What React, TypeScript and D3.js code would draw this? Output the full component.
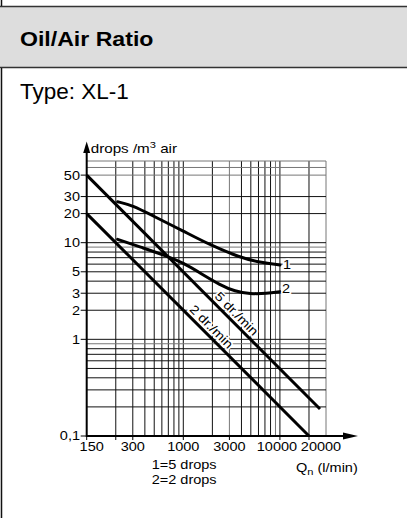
import * as d3 from 'd3';

// axis ticks (the original labels the axis origin "150" although the grid starts at 100)
const xTickValues = [100, 300, 1000, 3000, 10000, 20000];
const xTickLabels = ['150', '300', '1000', '3000', '10000', '20000'];
const xTickMarks = [100, 200, 300, 1000, 3000, 10000, 20000];
const yTickValues = [50, 30, 20, 10, 5, 3, 2, 1, 0.1];
const yTickLabels = ['50', '30', '20', '10', '5', '3', '2', '1', '0,1'];

// grid lines
const xGrid = [
  200, 300, 400, 500, 600, 700, 800, 900, 1000,
  2000, 3000, 4000, 5000, 6000, 7000, 8000, 9000, 10000, 20000, 30000,
];
const xGridGrey = [3000, 9000, 30000];
const yGrid = [
  70, 60, 50, 30, 20, 10, 9, 8, 7, 6, 5, 4, 3, 2, 1,
  0.9, 0.8, 0.7, 0.6, 0.5, 0.4, 0.3, 0.2,
];
const yGridGrey = [70, 60, 50, 9, 0.9];

// constant drop-rate lines (drops/m3 vs Qn)
const line5Q = [100, 26000];
const line5V = [50, 0.19];
const line2Q = [100, 20000];
const line2V = [20, 0.1];

// measured curves 1 (5 drops) and 2 (2 drops)
const curve1Q = [209, 302, 486, 1000, 1890, 3860, 6220, 10000];
const curve1V = [26.5, 24.3, 18.9, 13.2, 9.47, 7.03, 6.24, 5.88];
const curve2Q = [209, 356, 673, 1000, 1490, 2400, 3430, 4900, 7300, 10000];
const curve2V = [10.84, 9.03, 7.29, 6.17, 4.86, 3.65, 3.13, 2.95, 2.98, 3.11];

const W = 407;
const H = 518;
const FONT = "'Liberation Sans', Arial, Helvetica, sans-serif";
const STRETCH = 1.17;
const FS = 12.4;

const x = d3.scaleLog().domain([100, 30000]).range([86.7, 326]);
const y = d3.scaleLog().domain([0.1, 70]).range([436, 161]);

const zip = (qs: number[], vs: number[]): [number, number][] =>
  qs.map((q, i) => [q, vs[i]]);

const straight = d3
  .line<[number, number]>()
  .x((d) => x(d[0]))
  .y((d) => y(d[1]));

const smooth = d3
  .line<[number, number]>()
  .x((d) => x(d[0]))
  .y((d) => y(d[1]))
  .curve(d3.curveBasis);

const SText = ({
  px,
  py,
  anchor = 'start',
  size = FS,
  halo = false,
  children,
}: any) => (
  <text
    transform={`translate(${px},${py}) scale(${STRETCH},1)`}
    textAnchor={anchor}
    fontSize={size}
    fontFamily={FONT}
    fill='#000'
    stroke={halo ? '#fff' : 'none'}
    strokeWidth={halo ? 3 : 0}
    paintOrder='stroke'
  >
    {children}
  </text>
);

// label sitting on a straight line, at data position q
const lineLabel = (qs: number[], vs: number[], q: number, text: string) => {
  const t = Math.log(q / qs[0]) / Math.log(qs[1] / qs[0]);
  const v = vs[0] * Math.pow(vs[1] / vs[0], t);
  const angle =
    (Math.atan2(y(vs[1]) - y(vs[0]), x(qs[1]) - x(qs[0])) * 180) / Math.PI;
  return (
    <g transform={`translate(${x(q)},${y(v)}) rotate(${angle})`}>
      <SText px={0} py={-4} anchor='middle' halo>
        {text}
      </SText>
    </g>
  );
};

const App = () => {
  const x0 = x(100);
  const yBase = y(0.1);
  const xLabelNudge = (i: number) =>
    i === 0 ? 5 : i === xTickLabels.length - 1 ? 12 : i === 4 ? -3 : 0;

  return (
    <div style={{ position: 'absolute', left: 0, top: 0, background: '#fff' }}>
      <svg width={W} height={H} style={{ display: 'block' }}>
        <rect width={W} height={H} fill='#fff' />

        {/* header */}
        <rect x={0} y={7} width={W} height={60} fill='#dddddd' />
        <line x1={0} x2={W} y1={6.5} y2={6.5} stroke='#333' strokeWidth={1.5} />
        <line x1={0} x2={W} y1={67.5} y2={67.5} stroke='#333' strokeWidth={1.5} />
        <line x1={1.5} x2={1.5} y1={0} y2={6} stroke='#111' strokeWidth={1.5} />
        <line x1={1.5} x2={1.5} y1={68} y2={H} stroke='#111' strokeWidth={1.5} />
        <line x1={0.3} x2={0.3} y1={68} y2={H} stroke='#bbb' strokeWidth={0.6} />
        <text
          transform='translate(20,46) scale(1.1,1)'
          fontFamily={FONT}
          fontWeight='bold'
          fontSize={21}
        >
          Oil/Air Ratio
        </text>
        <text x={20} y={99.3} fontFamily={FONT} fontSize={22.5}>
          Type: XL-1
        </text>

        {/* grid */}
        <g>
          {xGrid.map((q) => (
            <line
              key={'xg' + q}
              x1={x(q)}
              x2={x(q)}
              y1={y(70)}
              y2={yBase}
              stroke={xGridGrey.includes(q) ? '#777' : '#111'}
              strokeWidth={1}
            />
          ))}
          {yGrid.map((v) => (
            <line
              key={'yg' + v}
              x1={x0}
              x2={x(30000)}
              y1={y(v)}
              y2={y(v)}
              stroke={yGridGrey.includes(v) ? '#777' : '#111'}
              strokeWidth={1}
            />
          ))}
        </g>

        {/* ticks */}
        {xTickMarks.map((q) => (
          <line
            key={'xt' + q}
            x1={x(q)}
            x2={x(q)}
            y1={yBase}
            y2={yBase + 4}
            stroke='#000'
            strokeWidth={1}
          />
        ))}
        {yTickValues.map((v) => (
          <line
            key={'yt' + v}
            x1={x0 - 6}
            x2={x0}
            y1={y(v)}
            y2={y(v)}
            stroke='#000'
            strokeWidth={1}
          />
        ))}

        {/* data */}
        <g fill='none' stroke='#000' strokeWidth={3}>
          <path d={straight(zip(line5Q, line5V)) || ''} />
          <path d={straight(zip(line2Q, line2V)) || ''} />
          <path d={smooth(zip(curve1Q, curve1V)) || ''} strokeLinecap='round' />
          <path d={smooth(zip(curve2Q, curve2V)) || ''} strokeLinecap='round' />
        </g>

        {lineLabel(line5Q, line5V, 3100, '5 dr./min')}
        {lineLabel(line2Q, line2V, 1700, '2 dr./min')}

        <SText
          px={x(curve1Q[curve1Q.length - 1]) + 3}
          py={y(curve1V[curve1V.length - 1]) + 4.3}
          halo
        >
          1
        </SText>
        <SText
          px={x(curve2Q[curve2Q.length - 1]) + 2}
          py={y(curve2V[curve2V.length - 1]) + 1.5}
          halo
        >
          2
        </SText>

        {/* axes */}
        <line x1={x0} x2={345} y1={yBase} y2={yBase} stroke='#000' strokeWidth={2} />
        <path d={`M358,${yBase} L343,${yBase - 3.5} L343,${yBase + 3.5} Z`} fill='#000' />
        <line x1={x0} x2={x0} y1={yBase + 1} y2={152} stroke='#000' strokeWidth={2} />
        <path d={`M${x0},141.5 L${x0 - 3.5},153 L${x0 + 3.5},153 Z`} fill='#000' />

        {/* tick labels */}
        {yTickValues.map((v, i) => (
          <SText key={'yl' + v} px={80} py={y(v) + 4.4} anchor='end'>
            {yTickLabels[i]}
          </SText>
        ))}
        {xTickValues.map((q, i) => (
          <SText
            key={'xl' + q}
            px={x(q) + xLabelNudge(i)}
            py={451}
            anchor='middle'
          >
            {xTickLabels[i]}
          </SText>
        ))}

        {/* axis titles */}
        <SText px={90.7} py={152.5} size={13}>
          drops /m
          <tspan fontSize={9.5} dy={-4.5}>
            3
          </tspan>
          <tspan dy={4.5}> air</tspan>
        </SText>
        <SText px={296} py={471.5}>
          Q
          <tspan fontSize={9.5} dy={3}>
            n
          </tspan>
          <tspan dy={-3}> (l/min)</tspan>
        </SText>

        {/* legend */}
        <SText px={151.7} py={468.6}>
          1=5 drops
        </SText>
        <SText px={151.7} py={484}>
          2=2 drops
        </SText>
      </svg>
    </div>
  );
};

export default App;
